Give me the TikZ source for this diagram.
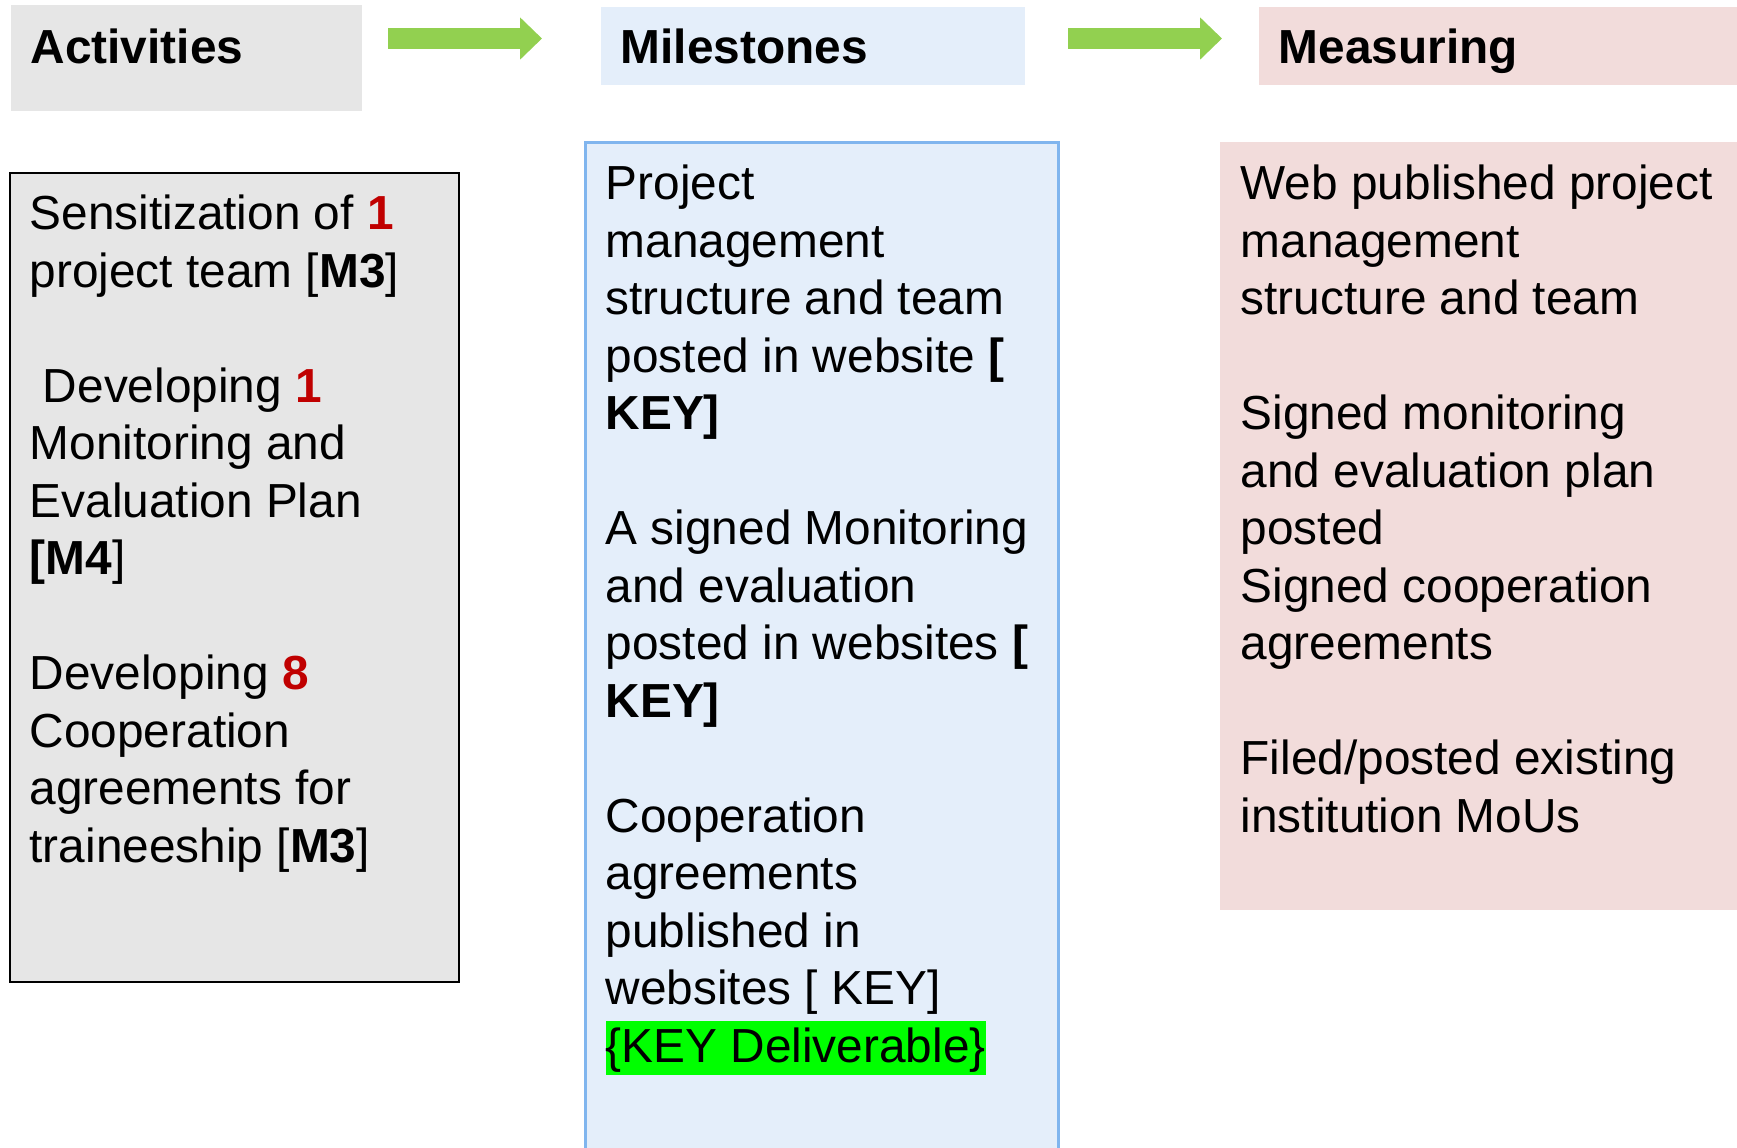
\documentclass[tikz,border=0pt]{standalone}
\usepackage{fontspec}
\setmainfont{Liberation Sans}
\usetikzlibrary{arrows.meta}

\definecolor{actgray}{RGB}{230,230,230}
\definecolor{milblue}{RGB}{228,238,250}
\definecolor{milline}{RGB}{128,181,238}
\definecolor{meapink}{RGB}{242,220,219}
\definecolor{flowgreen}{RGB}{146,208,80}
\definecolor{keyred}{RGB}{192,0,0}

\newcommand{\rednum}[1]{\textcolor{keyred}{\textbf{#1}}}
\newcommand{\keyhl}[1]{{\setlength{\fboxsep}{0pt}\colorbox{green}{\rule[-3.7pt]{0pt}{15.4pt}#1}}}
\newcommand{\firstline}{\rule{0pt}{12pt}}

\begin{document}
\begin{tikzpicture}[x=0.1mm, y=-0.1mm,
    hdr/.style={anchor=north west, inner xsep=2mm, inner ysep=0pt, align=left, font=\fontsize{13.6pt}{16.36pt}\selectfont\bfseries},
    box/.style={anchor=north west, inner sep=0pt, outer sep=0pt},
    body/.style={anchor=north west, inner sep=0pt, align=left, font=\fontsize{13.6pt}{16.36pt}\selectfont},
    flow/.style={flowgreen, line width=2.1mm, -{Triangle[length=2.2mm, width=4.1mm]}}]
\useasboundingbox (0,0) rectangle (1737,1147);

% headers
\node[hdr, fill=actgray, text width=31.1mm, text height=5.9mm, text depth=4.7mm] (acthead) at (10,4) {Activities};
\node[hdr, fill=milblue, text width=38.4mm, text height=5.7mm, text depth=2.1mm] (milhead) at (600,6) {Milestones};
\node[hdr, fill=meapink, text width=44.4mm, text height=5.7mm, text depth=2.1mm] (meahead) at (1258,6) {Measuring};

\coordinate (flow1a) at (388,38.5);
\coordinate (flow1b) at (542,38.5);
\coordinate (flow2a) at (1068,38.5);
\coordinate (flow2b) at (1222,38.5);
\draw[flow] (flow1a) -- (flow1b);
\draw[flow] (flow2a) -- (flow2b);

% columns
\node[box, fill=actgray, draw=black, line width=0.25mm, minimum width=44.9mm, minimum height=80.9mm] (actbox) at (10,173) {};
\node[box, fill=milblue, draw=milline, line width=0.3mm, minimum width=47.3mm, minimum height=103mm] (milbox) at (585,142) {};
\node[box, fill=meapink, minimum width=52mm, minimum height=76.8mm] (meabox) at (1220,142) {};

\node[body] (acttext) at ([shift={(19,13.8)}]actbox.north west) {\firstline Sensitization of \rednum{1}\\
project team [\textbf{M3}]\\
~\\
\hspace*{0.278em}Developing \rednum{1}\\
Monitoring and\\
Evaluation Plan\\
\textbf{[M4}]\\
~\\
Developing \rednum{8}\\
Cooperation\\
agreements for\\
traineeship [\textbf{M3}]};

\node[body] (miltext) at ([shift={(20,14.8)}]milbox.north west) {\firstline Project\\
management\\
structure and team\\
posted in website \textbf{[}\\
\textbf{KEY]}\\
~\\
A signed Monitoring\\
and evaluation\\
posted in websites \textbf{[}\\
\textbf{KEY]}\\
~\\
Cooperation\\
agreements\\
published in\\
websites [ KEY]\\
\keyhl{\{KEY Deliverable\}}};

\node[body] (meatext) at ([shift={(20,14.8)}]meabox.north west) {\firstline Web published project\\
management\\
structure and team\\
~\\
Signed monitoring\\
and evaluation plan\\
posted\\
Signed cooperation\\
agreements\\
~\\
Filed/posted existing\\
institution MoUs};
\end{tikzpicture}
\end{document}
